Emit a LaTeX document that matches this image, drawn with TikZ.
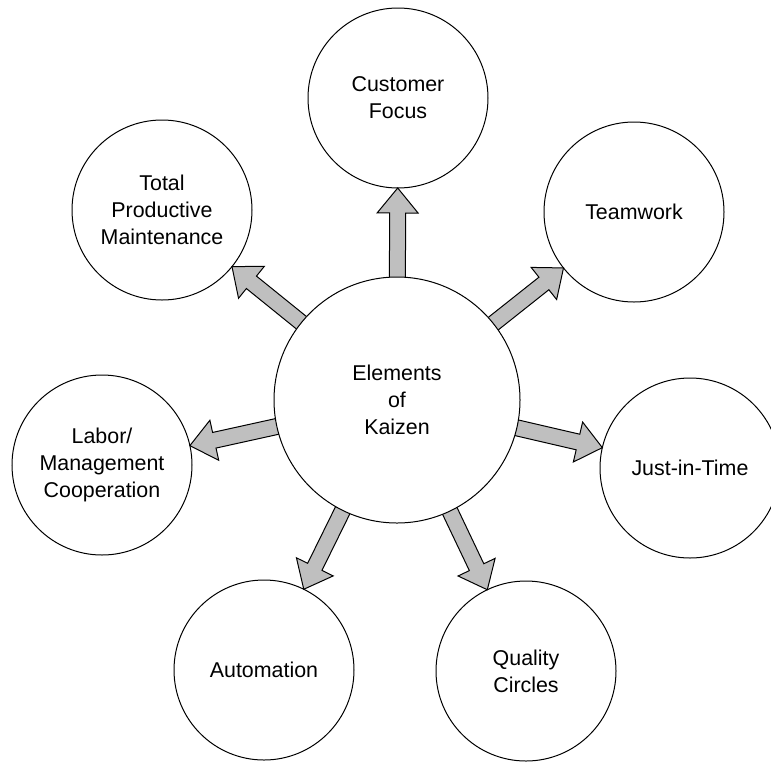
\documentclass[tikz,border=0pt]{standalone}
\usepackage{fontspec}
\setmainfont{Liberation Sans}
\usetikzlibrary{calc}
\tikzset{
  kzcircle/.style={circle,draw=black,line width=0.5pt,fill=white,inner sep=0pt,outer sep=0pt,
    minimum size=90pt,align=center,font=\fontsize{10.7pt}{13.4pt}\selectfont},
  kzcenter/.style={kzcircle,minimum size=123pt},
  kzarrowstyle/.style={draw=black,line width=0.5pt,fill=black!25,line join=miter}
}
\newcommand\kzarrow[1]{%
  \coordinate (hb#1) at ($(#1.center)!57.5pt!(c.center)$);
  \coordinate (tl#1) at ($(c.center)!55pt!(#1.center)$);
  \coordinate (tp#1) at ($(#1.center)!45pt!(c.center)$);
  \draw[kzarrowstyle] (tp#1) -- ($(hb#1)!10.25pt!90:(#1.center)$) -- ($(hb#1)!4pt!90:(#1.center)$)
    -- ($(tl#1)!4pt!90:(#1.center)$) -- ($(tl#1)!4pt!-90:(#1.center)$)
    -- ($(hb#1)!4pt!-90:(#1.center)$) -- ($(hb#1)!10.25pt!-90:(#1.center)$) -- cycle;}
\begin{document}
\begin{tikzpicture}[x=0.5pt,y=-0.5pt]
\useasboundingbox (0,0) rectangle (771,761);
\clip (0,0) rectangle (771,761);
% coordinates for layout (centres)
\path (397,400) coordinate (cpos);
\node[kzcircle] (cf)  at (398,98)  {Customer\\Focus};
\node[kzcircle] (tw)  at (634,212) {Teamwork};
\node[kzcircle] (tpm) at (162,210) {Total\\Productive\\Maintenance};
\node[kzcircle] (lab) at (102,465) {Labor/\\Management\\Cooperation};
\node[kzcircle] (jit) at (690,468) {Just-in-Time};
\node[kzcircle] (aut) at (264,670) {Automation};
\node[kzcircle] (qc)  at (526,671) {Quality\\Circles};
\path (cpos) coordinate (c);
\kzarrow{cf}
\kzarrow{tw}
\kzarrow{tpm}
\kzarrow{lab}
\kzarrow{jit}
\kzarrow{aut}
\kzarrow{qc}
\node[kzcenter] (c) at (cpos) {Elements\\of\\Kaizen};
\end{tikzpicture}
\end{document}
